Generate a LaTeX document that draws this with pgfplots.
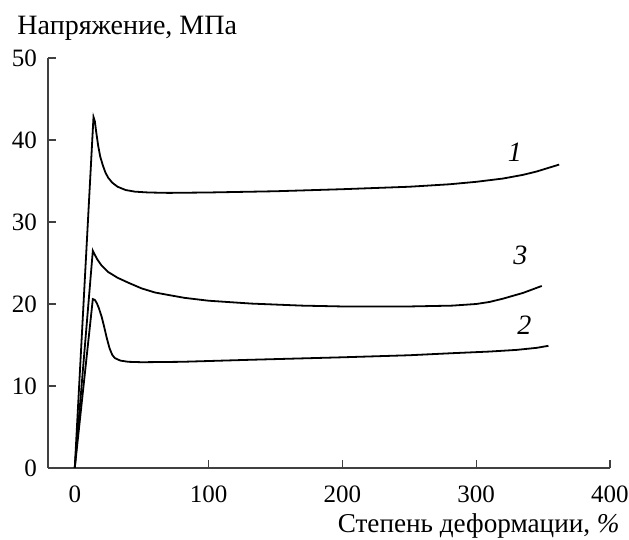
\documentclass[border=0pt]{standalone}
\usepackage{fontspec}
\setmainfont{Liberation Serif}
\usepackage{pgfplots}
\pgfplotsset{compat=1.18}
\begin{document}
\begin{tikzpicture}
\begin{axis}[
  scale only axis,
  width=281pt, height=205pt,
  xmin=-20, xmax=400, ymin=0, ymax=50,
  axis lines*=left,
  axis line style={line width=0.6pt, black!75},
  tick align=inside,
  major tick length=4pt,
  tick style={line width=0.6pt, black!75},
  xtick={0,100,200,300,400},
  ytick={0,10,20,30,40,50},
  /pgf/number format/assume math mode=true,
  tick label style={font=\fontsize{12.5}{14}\selectfont},
  xticklabel style={yshift=-5.5pt},
  yticklabel style={xshift=-2pt},
  xlabel={Степень деформации, \textit{\%}},
  xlabel style={font=\fontsize{13.6}{16}\selectfont, at={(axis description cs:1.0178,-0.1585)}, anchor=base east, inner sep=0pt},
  ylabel={Напряжение, МПа},
  ylabel style={font=\fontsize{14}{16}\selectfont, rotate=-90, at={(axis description cs:-0.055,1.0585)}, anchor=base west, inner sep=0pt},
]
% curve 1
\addplot[black, line width=0.9pt] coordinates {(0,0) (14,42.8) (15,42.3) (16,41.0) (17.5,39.3) (19,38.0) (21,36.9) (23,36.0) (25,35.4) (28,34.8) (32,34.3) (38,33.9) (45,33.7) (55,33.6) (70,33.55) (100,33.6) (150,33.75) (200,34.0) (250,34.3) (280,34.6) (300,34.9) (320,35.3) (335,35.75) (345,36.15) (355,36.65) (362,37.0)};
% curve 3
\addplot[black, line width=0.9pt] coordinates {(0,0) (13.5,26.5) (15,26.0) (17,25.4) (20,24.7) (25,23.9) (32,23.2) (40,22.6) (50,21.9) (60,21.4) (70,21.1) (82,20.75) (100,20.4) (132,20.05) (170,19.8) (200,19.7) (250,19.7) (282,19.8) (300,20.0) (310,20.25) (320,20.65) (335,21.35) (349,22.2)};
% curve 2
\addplot[black, line width=0.9pt] coordinates {(0,0) (13.5,20.6) (15,20.5) (16.5,20.1) (18,19.5) (20,18.5) (22,17.2) (24,15.8) (26,14.6) (28,13.8) (30,13.4) (34,13.1) (40,12.95) (50,12.9) (80,12.95) (132,13.2) (200,13.5) (250,13.75) (282,14.0) (310,14.2) (330,14.4) (345,14.65) (354,14.9)};
\node[font=\fontsize{14}{16}\selectfont\itshape] at (axis cs:329,38.5) {1};
\node[font=\fontsize{14}{16}\selectfont\itshape] at (axis cs:333,25.9) {3};
\node[font=\fontsize{14}{16}\selectfont\itshape] at (axis cs:336,17.4) {2};
\end{axis}
\pgfresetboundingbox
\path[use as bounding box] (-24pt,-36pt) rectangle (290.5pt,234pt);
\end{tikzpicture}
\end{document}
